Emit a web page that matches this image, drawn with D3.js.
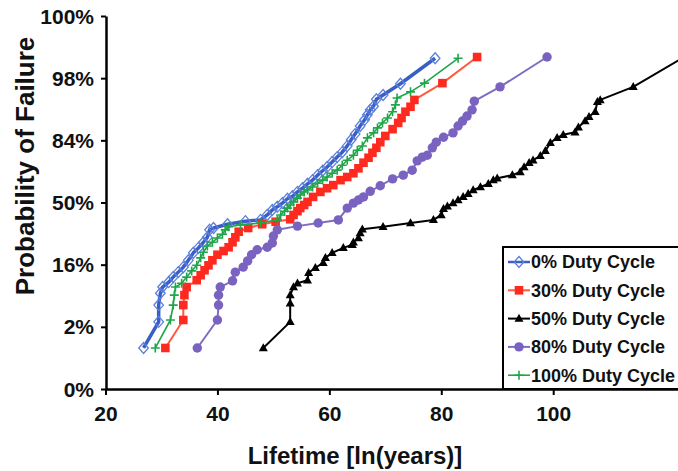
<!DOCTYPE html>
<html>
<head>
<meta charset="utf-8">
<script src="https://cdn.jsdelivr.net/npm/d3@7"></script>
<style>
  body { margin: 0; background: #fff; }
  svg { display: block; }
</style>
</head>
<body>
<script>
// lifetime [ln(years)] vs probability of failure, plotted as sigma (normal probability scale)
var categories = ["0% Duty Cycle", "30% Duty Cycle", "50% Duty Cycle", "80% Duty Cycle", "100% Duty Cycle"];

var duty0 = [[26.8,-2.34],[29.5,-1.92],[29.5,-1.65],[29.8,-1.46],[30.2,-1.36],[31.3,-1.28],[32.1,-1.20],[33.0,-1.12],
  [33.9,-1.04],[34.8,-0.93],[35.7,-0.81],[36.6,-0.73],[37.5,-0.64],[38.2,-0.56],[38.6,-0.44],[39.3,-0.41],[41.8,-0.35],
  [45.0,-0.30],[47.7,-0.28],[48.9,-0.20],[49.8,-0.12],[50.7,-0.07],[51.6,-0.01],[52.5,0.06],[53.4,0.10],[54.3,0.17],
  [55.2,0.23],[56.1,0.30],[57.0,0.36],[57.9,0.44],[58.8,0.51],[59.6,0.57],[60.5,0.65],[61.4,0.73],[62.3,0.81],[63.2,0.91],
  [63.9,1.01],[64.6,1.10],[65.5,1.23],[66.3,1.33],[66.8,1.41],[67.3,1.49],[67.9,1.55],[68.4,1.66],[69.6,1.73],[72.7,1.91],
  [78.9,2.32]];

var duty30 = [[30.7,-2.34],[33.9,-1.89],[33.9,-1.65],[34.1,-1.49],[34.5,-1.36],[36.3,-1.25],[37.0,-1.17],[37.7,-1.09],
  [38.4,-1.01],[39.1,-0.93],[40.0,-0.84],[41.1,-0.78],[42.0,-0.72],[42.7,-0.64],[43.2,-0.56],[43.8,-0.47],[45.5,-0.41],
  [48.0,-0.35],[50.4,-0.31],[53.0,-0.27],[53.6,-0.20],[54.3,-0.14],[54.8,-0.09],[55.5,-0.04],[56.1,0.01],[57.1,0.09],
  [58.4,0.17],[59.6,0.23],[60.7,0.28],[62.0,0.36],[63.2,0.41],[64.3,0.47],[65.2,0.55],[66.1,0.64],[67.0,0.72],[67.7,0.80],
  [68.4,0.88],[69.1,0.97],[70.0,1.07],[71.3,1.18],[72.3,1.28],[72.9,1.36],[73.6,1.46],[74.5,1.54],[75.2,1.65],[80.2,1.92],
  [86.4,2.34]];

var duty50 = [[48.2,-2.34],[53.0,-1.92],[53.0,-1.62],[53.0,-1.49],[53.6,-1.36],[54.3,-1.30],[56.1,-1.25],[56.3,-1.13],
  [57.5,-1.05],[58.9,-0.97],[59.3,-0.89],[60.5,-0.81],[62.5,-0.73],[64.1,-0.68],[64.3,-0.64],[65.2,-0.57],[65.5,-0.49],
  [65.9,-0.43],[69.6,-0.39],[74.5,-0.33],[78.6,-0.28],[80.0,-0.20],[80.4,-0.10],[81.1,-0.06],[82.1,-0.01],[83.0,0.04],
  [83.9,0.09],[84.8,0.14],[85.7,0.20],[87.0,0.25],[88.4,0.30],[89.3,0.36],[90.0,0.39],[92.7,0.44],[94.1,0.49],[94.8,0.57],
  [95.7,0.64],[96.4,0.68],[97.7,0.75],[98.6,0.83],[99.5,0.96],[100.7,1.04],[101.8,1.09],[103.9,1.13],[104.5,1.21],
  [105.7,1.31],[106.4,1.38],[107.5,1.46],[107.9,1.62],[108.4,1.65],[114.3,1.86],[123.4,2.34]];

var duty80 = [[36.4,-2.34],[40.0,-1.89],[40.2,-1.65],[40.2,-1.49],[40.5,-1.36],[42.7,-1.26],[43.2,-1.12],[44.6,-1.04],
  [45.4,-0.94],[46.1,-0.84],[47.1,-0.76],[48.9,-0.72],[49.8,-0.65],[50.0,-0.54],[50.7,-0.44],[54.3,-0.38],[58.0,-0.33],
  [61.6,-0.28],[63.2,-0.09],[64.3,-0.01],[65.2,0.04],[66.1,0.09],[67.3,0.18],[69.1,0.27],[71.3,0.38],[73.2,0.44],
  [74.8,0.52],[75.7,0.67],[76.6,0.73],[77.5,0.76],[78.4,0.88],[79.1,0.97],[80.4,1.05],[82.1,1.12],[83.0,1.23],[83.8,1.31],
  [84.6,1.39],[85.5,1.49],[85.9,1.63],[90.5,1.86],[98.9,2.34]];

var duty100 = [[28.9,-2.34],[31.6,-1.89],[32.1,-1.65],[32.3,-1.49],[32.5,-1.36],[33.6,-1.30],[34.5,-1.20],[35.4,-1.10],
  [36.3,-1.01],[37.0,-0.89],[37.5,-0.80],[38.2,-0.70],[39.1,-0.64],[40.0,-0.57],[40.9,-0.51],[41.4,-0.44],[42.0,-0.39],
  [44.1,-0.36],[47.7,-0.33],[50.7,-0.28],[51.3,-0.20],[52.0,-0.14],[52.5,-0.09],[53.0,-0.04],[53.6,0.01],[54.3,0.07],
  [54.8,0.12],[55.5,0.17],[56.1,0.20],[57.0,0.25],[57.9,0.31],[58.8,0.36],[59.6,0.41],[60.5,0.47],[61.4,0.52],[62.3,0.60],
  [63.2,0.68],[64.3,0.76],[65.0,0.84],[65.9,0.91],[66.8,1.04],[67.9,1.12],[68.6,1.20],[69.5,1.28],[70.4,1.36],[71.3,1.46],
  [71.8,1.57],[72.1,1.68],[74.5,1.78],[77.0,1.92],[83.0,2.32]];

var xTicks = [20, 40, 60, 80, 100];
var yTickSigma = [-3, -2, -1, 0, 1, 2, 3];
var yTickLabels = ["0%", "2%", "16%", "50%", "84%", "98%", "100%"];

var width = 678, height = 471;

var svg = d3.select("body").append("svg")
    .attr("width", width)
    .attr("height", height)
    .style("font-family", "'Liberation Sans', Arial, sans-serif");

svg.append("rect").attr("width", width).attr("height", height).attr("fill", "#fff");

var x = d3.scaleLinear().domain([20, 122.3]).range([105.5, 678]);
var y = d3.scaleLinear().domain([-3, 3]).range([389, 16]);

// marker paths
function markerPath(kind) {
  if (kind == "diamond") return "M0,-5.5L4.8,0L0,5.5L-4.8,0Z";
  if (kind == "square") return "M-4.3,-4.3H4.3V4.3H-4.3Z";
  if (kind == "triangle") return "M0,-4.8L4.5,3.2L-4.5,3.2Z";
  if (kind == "plus") return "M-4.5,0H4.5M0,-4.5V4.5";
  return d3.symbol(d3.symbolCircle, 70)();
}

var series = [
  { name: categories[0], data: duty0, line: "#3a5fc4", lw: 3.5, mk: "diamond", fill: "none", stroke: "#5b7fdc", sw: 1.3 },
  { name: categories[1], data: duty30, line: "#ff5a3c", lw: 2, mk: "square", fill: "#ff2a1f", stroke: "none", sw: 0 },
  { name: categories[2], data: duty50, line: "#000", lw: 2, mk: "triangle", fill: "#000", stroke: "none", sw: 0 },
  { name: categories[3], data: duty80, line: "#7e6cc4", lw: 2, mk: "circle", fill: "#7a62c0", stroke: "none", sw: 0 },
  { name: categories[4], data: duty100, line: "#1fa64a", lw: 1.6, mk: "plus", fill: "none", stroke: "#1fa64a", sw: 1.6 }
];

// axes
var yAxis = svg.append("g")
    .attr("transform", "translate(106,0)")
    .call(d3.axisLeft(y).tickValues(yTickSigma).tickSize(5).tickSizeOuter(0)
      .tickFormat(function (d, i) { return yTickLabels[i]; }));

var xAxis = svg.append("g")
    .attr("transform", "translate(0,389)")
    .call(d3.axisBottom(x).tickValues(xTicks).tickSize(6).tickSizeOuter(0));

[yAxis, xAxis].forEach(function (g) {
  g.select(".domain").attr("stroke", "#000").attr("stroke-width", 2.5);
  g.selectAll(".tick line").attr("stroke", "#000").attr("stroke-width", 2);
  g.selectAll(".tick text")
    .attr("fill", "#111")
    .style("font-family", "'Liberation Sans', Arial, sans-serif")
    .style("font-weight", "bold")
    .style("font-size", "21px");
});
yAxis.selectAll(".tick text").attr("x", -12).attr("dy", "0.34em");
xAxis.selectAll(".tick text").attr("y", 17).attr("dy", "0.71em");

// series
var line = d3.line().x(function (d) { return x(d[0]); }).y(function (d) { return y(d[1]); });

series.forEach(function (s) {
  var g = svg.append("g");
  g.append("path")
    .datum(s.data)
    .attr("d", line)
    .attr("fill", "none")
    .attr("stroke", s.line)
    .attr("stroke-width", s.lw)
    .attr("stroke-linejoin", "round");
  g.selectAll("path.mk")
    .data(s.data)
    .enter().append("path")
    .attr("class", "mk")
    .attr("d", markerPath(s.mk))
    .attr("transform", function (d) { return "translate(" + x(d[0]) + "," + y(d[1]) + ")"; })
    .attr("fill", s.fill)
    .attr("stroke", s.stroke)
    .attr("stroke-width", s.sw);
});

// legend
var legend = svg.append("g").attr("transform", "translate(503,247)");
legend.append("rect")
    .attr("width", 200).attr("height", 142)
    .attr("fill", "#fff").attr("stroke", "#000").attr("stroke-width", 2);

var item = legend.selectAll("g.item")
    .data(series)
    .enter().append("g")
    .attr("class", "item")
    .attr("transform", function (d, i) { return "translate(0," + (15 + i * 28.3) + ")"; });

item.append("line")
    .attr("x1", 5).attr("x2", 27)
    .attr("stroke", function (d) { return d.line; })
    .attr("stroke-width", function (d) { return Math.min(d.lw, 2.5); });
item.append("path")
    .attr("d", function (d) { return markerPath(d.mk); })
    .attr("transform", "translate(16,0)")
    .attr("fill", function (d) { return d.fill; })
    .attr("stroke", function (d) { return d.stroke; })
    .attr("stroke-width", function (d) { return d.sw; });
item.append("text")
    .attr("x", 28).attr("dy", "0.35em")
    .attr("fill", "#111")
    .style("font-weight", "bold")
    .style("font-size", "18px")
    .text(function (d) { return d.name; });

// axis titles
svg.append("text")
    .attr("x", 355).attr("y", 464)
    .attr("text-anchor", "middle")
    .attr("fill", "#111")
    .style("font-weight", "bold")
    .style("font-size", "24px")
    .text("Lifetime [ln(years)]");

svg.append("text")
    .attr("transform", "translate(34,166) rotate(-90)")
    .attr("text-anchor", "middle")
    .attr("fill", "#111")
    .style("font-weight", "bold")
    .style("font-size", "26px")
    .text("Probability of Failure");
</script>
</body>
</html>
